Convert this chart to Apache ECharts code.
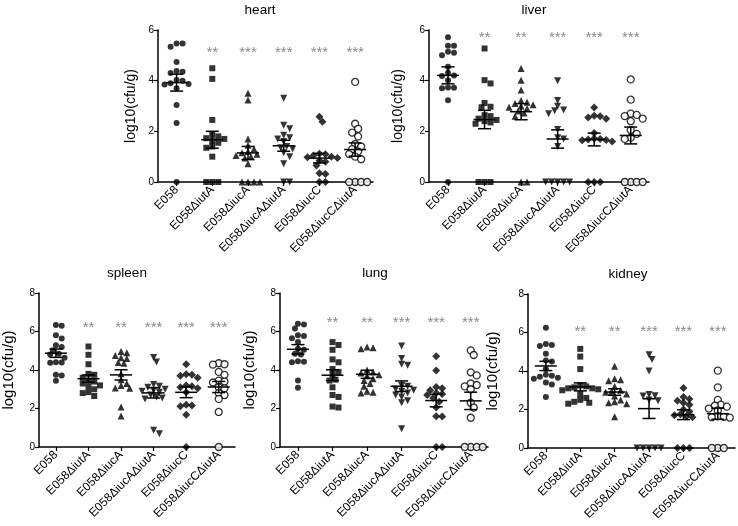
<!DOCTYPE html>
<html><head><meta charset="utf-8">
<script src="https://cdn.jsdelivr.net/npm/echarts@6/dist/echarts.min.js"></script>
<style>html,body{margin:0;padding:0;background:#fff}#c{width:738px;height:526px}</style>
</head><body><div id="c"></div>
<script>
// ---- DATA ----
const categories = ['E058','E058ΔiutA','E058ΔiucA','E058ΔiucAΔiutA','E058ΔiucC','E058ΔiucCΔiutA'];

// log10(cfu/g) per mouse, one inner list per category (same order as categories)
const heart = [
  [5.47,5.34,5.47,4.74,4.38,4.35,4.3,4.03,4.0,3.87,3.9,3.85,3.7,3.04,2.33,0],
  [4.49,4.07,2.45,1.86,1.8,1.73,1.7,1.62,1.55,1.4,1.35,1.0,0,0,0],
  [3.5,3.24,1.7,1.45,1.3,1.2,1.15,1.1,1.05,1.0,0.95,0.72,0,0,0,0],
  [3.31,2.24,2.1,1.85,1.75,1.7,1.6,1.4,1.35,1.3,1.15,1.0,0.72,0,0],
  [2.58,2.38,1.12,1.1,1.05,1.0,0.98,0.95,0.85,0.8,0.65,0.35,0.32,0,0],
  [3.95,2.3,2.1,1.95,1.8,1.5,1.4,1.3,1.2,1.1,1.0,0.9,0,0,0,0]
];
const liver = [
  [5.71,5.38,5.38,5.14,5.1,5.0,4.55,4.31,4.2,4.18,4.02,3.73,3.72,3.7,3.23,0],
  [5.27,4.02,3.89,3.12,2.97,2.95,2.64,2.6,2.45,2.4,2.35,2.5,2.3,0,0,0],
  [4.48,4.02,3.63,3.22,3.15,3.1,3.05,3.0,2.95,2.9,2.8,2.72,2.6,0,0],
  [4.0,3.22,2.99,2.84,2.81,2.69,2.07,1.75,1.7,1.4,0,0,0,0,0],
  [2.94,2.62,2.6,2.55,2.5,1.93,1.72,1.7,1.68,1.66,1.65,1.6,0,0,0],
  [4.05,3.25,2.7,2.65,2.6,2.5,2.4,2.05,1.9,1.75,1.7,0,0,0,0]
];
const spleen = [
  [6.34,6.3,5.81,5.64,5.29,5.2,5.03,4.84,4.8,4.63,4.4,4.39,4.38,3.75,3.72,3.44],
  [5.22,4.79,4.3,3.8,3.75,3.6,3.45,3.4,3.3,3.2,3.15,3.0,2.85,2.8,2.65],
  [4.96,4.9,4.75,4.63,4.6,4.39,4.35,3.8,3.5,3.3,3.2,3.07,3.05,2.08,1.61],
  [4.65,4.42,3.25,3.15,3.1,3.0,2.95,2.9,2.85,2.7,2.6,2.55,2.5,0.87,0.69],
  [4.3,3.78,3.75,3.7,3.6,3.2,3.15,3.1,3.05,2.85,2.2,2.15,2.12,1.67,0],
  [4.35,4.3,4.28,3.9,3.75,3.45,3.4,3.35,3.1,3.05,2.8,2.7,2.5,1.82,0]
];
const lung = [
  [6.4,6.37,6.15,5.8,5.77,5.65,5.46,5.1,5.05,4.85,4.8,4.45,4.43,4.4,3.45,3.08],
  [5.45,5.3,5.05,4.55,4.4,4.05,3.9,3.75,3.5,3.45,3.1,2.7,2.6,2.1,2.05],
  [5.2,5.15,5.1,4.0,3.9,3.85,3.75,3.7,3.55,3.45,3.3,3.15,2.9,2.85,2.8],
  [5.25,4.6,4.3,4.25,3.2,3.15,3.0,2.95,2.9,2.8,2.7,2.6,2.4,2.3,0.95],
  [4.72,3.98,3.12,3.05,2.95,2.8,2.75,2.7,2.55,2.35,2.05,1.6,1.58,0,0],
  [5.02,4.78,3.88,3.72,3.3,3.22,3.15,3.0,2.3,2.05,1.52,0,0,0,0]
];
const kidney = [
  [6.25,5.4,5.35,5.3,4.9,4.55,4.5,4.1,3.8,3.75,3.7,3.65,3.6,3.4,3.3,2.65],
  [5.15,4.75,4.1,3.1,3.25,3.2,3.15,3.1,3.05,3.0,2.8,2.6,2.5,2.4,2.35,2.3],
  [4.25,3.6,3.55,3.5,3.2,3.0,2.95,2.9,2.8,2.7,2.5,2.4,2.35,2.3,1.62],
  [4.85,4.6,4.0,2.78,2.72,2.7,2.5,2.45,0,0,0,0,0],
  [3.12,2.65,2.55,2.45,2.35,2.25,2.0,1.9,1.75,1.7,1.65,1.6,0,0,0],
  [4.02,3.15,2.5,2.25,2.2,2.15,2.05,1.95,1.65,1.62,1.6,1.58,0,0,0]
];

// significance marks vs E058
const heartStars  = ['', '**', '***', '***', '***', '***'];
const liverStars  = ['', '**', '**',  '***', '***', '***'];
const spleenStars = ['', '**', '**',  '***', '***', '***'];
const lungStars   = ['', '**', '**',  '***', '***', '***'];
const kidneyStars = ['', '**', '**',  '***', '***', '***'];

const yTicksTop = [0, 2, 4, 6];
const yTicksBottom = [0, 2, 4, 6, 8];

// ---- LAYOUT ----
const FONT = 'Liberation Sans, Arial, Helvetica, sans-serif';
const XMIN = -0.52, XMAX = 5.5;
const panels = [
  {title:'heart',  data:heart,  stars:heartStars,  ticks:yTicksTop,    left:158, top:30,  width:215, height:152, starY:5.08, tx:260, ty:10,  nameGap:20, nameSize:14},
  {title:'liver',  data:liver,  stars:liverStars,  ticks:yTicksTop,    left:429, top:30,  width:220, height:152, starY:5.68, tx:534, ty:10,  nameGap:24, nameSize:14},
  {title:'spleen', data:spleen, stars:spleenStars, ticks:yTicksBottom, left:31,  top:293, width:204, height:154, starY:6.2,  tx:127, ty:273, nameGap:23, nameSize:15},
  {title:'lung',   data:lung,   stars:lungStars,   ticks:yTicksBottom, left:280, top:293, width:208, height:154, starY:6.45, tx:375, ty:273, nameGap:23, nameSize:15},
  {title:'kidney', data:kidney, stars:kidneyStars, ticks:yTicksBottom, left:528, top:294, width:207, height:154, starY:6.05, tx:628, ty:274, nameGap:28, nameSize:15}
];

const symbols = [
  {symbol:'circle', size:6, empty:false},
  {symbol:'rect', size:6, empty:false},
  {symbol:'triangle', size:7, empty:false},
  {symbol:'path://M0,0 L10,0 L5,9 Z', size:7, empty:false},
  {symbol:'diamond', size:8, empty:false},
  {symbol:'circle', size:7, empty:true}
];

function swarm(values, pxPerY, step, minDist) {
  const placed = [];
  const out = new Array(values.length).fill(0);
  const order = values.map((v, i) => i).sort((a, b) => values[b] - values[a]);
  for (const i of order) {
    const y = values[i] * pxPerY;
    for (let k = 0; k < 200; k++) {
      const off = k === 0 ? 0 : (k % 2 === 1 ? 1 : -1) * Math.ceil(k / 2) * step;
      if (placed.every(p => Math.hypot(p.x - off, p.y - y) >= minDist)) {
        placed.push({x: off, y}); out[i] = off; break;
      }
    }
  }
  return out;
}
function mean(a) { return a.reduce((s, v) => s + v, 0) / a.length; }
function sem(a) {
  const m = mean(a);
  const sd = Math.sqrt(a.reduce((s, v) => s + (v - m) * (v - m), 0) / (a.length - 1));
  return sd / Math.sqrt(a.length);
}

const grid = [], xAxis = [], yAxis = [], series = [], graphic = [];
panels.forEach((p, gi) => {
  const ymax = p.ticks[p.ticks.length - 1];
  grid.push({left: p.left, top: p.top, width: p.width, height: p.height, containLabel: false});
  xAxis.push({
    type: 'value', gridIndex: gi, min: XMIN, max: XMAX,
    splitLine: {show: false},
    axisLine: {show: true, onZero: false, lineStyle: {color: '#000', width: 1.5}},
    axisTick: {show: true, customValues: [0,1,2,3,4,5], length: 4, lineStyle: {color: '#000', width: 1.2}},
    axisLabel: {customValues: [0,1,2,3,4,5], rotate: 45, margin: 6, fontSize: 12, color: '#000', fontFamily: FONT,
                formatter: v => categories[Math.round(v)]}
  });
  yAxis.push({
    type: 'value', gridIndex: gi, min: 0, max: ymax, interval: 2,
    name: 'log10(cfu/g)', nameLocation: 'middle', nameGap: p.nameGap,
    nameTextStyle: {fontSize: p.nameSize, color: '#000', fontFamily: FONT},
    splitLine: {show: false},
    axisLine: {show: true, onZero: false, lineStyle: {color: '#000', width: 1.5}},
    axisTick: {show: true, length: 4, lineStyle: {color: '#000', width: 1.2}},
    axisLabel: {fontSize: 10, color: '#000', margin: 4, fontFamily: FONT}
  });
  const pxPerY = p.height / ymax;
  const pxPerX = p.width / (XMAX - XMIN);
  p.data.forEach((vals, ci) => {
    const offs = swarm(vals, pxPerY, 3, 5.2);
    const s = symbols[ci];
    series.push({
      type: 'scatter', xAxisIndex: gi, yAxisIndex: gi, clip: false, z: 3,
      symbol: s.symbol, symbolSize: s.size,
      itemStyle: s.empty ? {color: '#fff', borderColor: '#000', borderWidth: 1.3} : {color: '#000'},
      data: vals.map((v, i) => [ci + offs[i] / pxPerX, v])
    });
  });
  series.push({
    type: 'custom', xAxisIndex: gi, yAxisIndex: gi, clip: false, z: 4,
    data: p.data.map((vals, ci) => [ci, mean(vals), sem(vals)]),
    renderItem: (params, api) => {
      const c = api.coord([api.value(0), api.value(1)]);
      const hi = api.coord([api.value(0), api.value(1) + api.value(2)]);
      const lo = api.coord([api.value(0), api.value(1) - api.value(2)]);
      const st = {stroke: '#000', lineWidth: 1.5};
      return {type: 'group', children: [
        {type: 'line', shape: {x1: c[0] - 11, y1: c[1], x2: c[0] + 11, y2: c[1]}, style: st},
        {type: 'line', shape: {x1: c[0], y1: hi[1], x2: c[0], y2: lo[1]}, style: st},
        {type: 'line', shape: {x1: c[0] - 6.5, y1: hi[1], x2: c[0] + 6.5, y2: hi[1]}, style: st},
        {type: 'line', shape: {x1: c[0] - 6.5, y1: lo[1], x2: c[0] + 6.5, y2: lo[1]}, style: st}
      ]};
    }
  });
  series.push({
    type: 'custom', xAxisIndex: gi, yAxisIndex: gi, clip: false, z: 5,
    data: p.stars.map((t, ci) => [ci, p.starY, t]),
    renderItem: (params, api) => {
      const c = api.coord([api.value(0), api.value(1)]);
      return {type: 'text', x: c[0], y: c[1], style: {
        text: p.stars[params.dataIndex], textAlign: 'center', textVerticalAlign: 'middle',
        fill: '#8a8a8a', font: '15px ' + FONT}};
    }
  });
  graphic.push({type: 'text', x: p.tx, y: p.ty, style: {
    text: p.title, textAlign: 'center', textVerticalAlign: 'middle', fill: '#000', font: '13.5px ' + FONT}});
});

const chart = echarts.init(document.getElementById('c'), null, {renderer: 'canvas'});
chart.setOption({animation: false, backgroundColor: '#fff', grid, xAxis, yAxis, series, graphic});
</script>
</body></html>
